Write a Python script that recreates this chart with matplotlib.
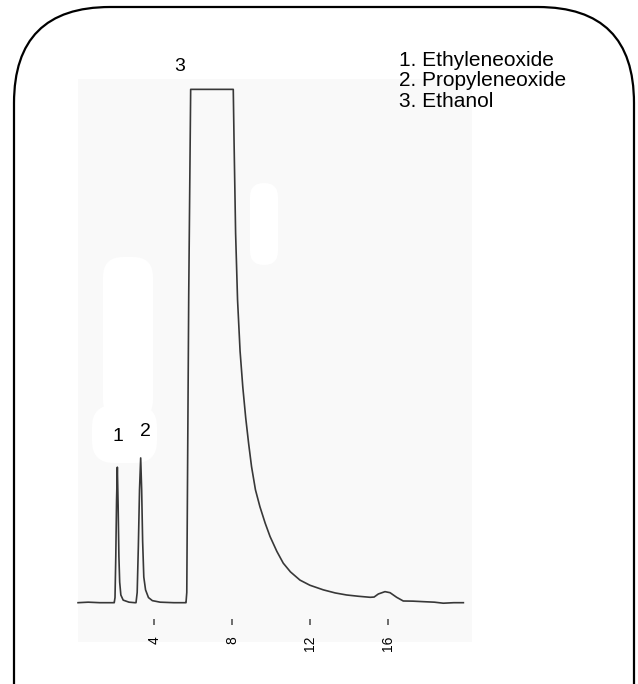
import matplotlib
matplotlib.use("Agg")
import matplotlib.pyplot as plt
from matplotlib.patches import FancyBboxPatch, Rectangle
from matplotlib.transforms import IdentityTransform

plt.rcParams['font.family'] = ['Liberation Sans', 'DejaVu Sans']

# Chromatogram trace: retention time (min) and detector signal (% of full scale)
t_start = [0.08, 0.6, 1.2, 1.90]
s_start = [0.0, 0.1, 0.0, 0.0]

t_peak1 = [1.94, 1.98, 2.02, 2.06, 2.10, 2.14, 2.18, 2.22, 2.28, 2.40, 2.70, 3.00]
s_peak1 = [0.0, 1.0, 9.0, 20.0, 26.4, 19.0, 9.0, 4.0, 1.5, 0.5, 0.1, 0.0]

t_peak2 = [3.06, 3.12, 3.18, 3.24, 3.30, 3.35, 3.40, 3.46, 3.55, 3.70, 3.90, 4.30, 5.00, 5.60]
s_peak2 = [0.0, 2.0, 11.0, 22.0, 28.2, 22.0, 12.0, 5.0, 2.5, 1.0, 0.4, 0.1, 0.0, 0.0]

t_peak3 = [5.63, 5.67, 5.77, 5.87, 8.06, 8.10, 8.18, 8.28, 8.41, 8.55, 8.70, 8.85,
           9.00, 9.20, 9.43, 9.70, 9.95, 10.30, 10.63, 11.00, 11.49, 12.00, 12.69,
           13.30, 13.89, 14.50, 15.10, 15.30]
s_peak3 = [0.0, 2.0, 60.0, 100.0, 100.0, 90.0, 72.0, 59.0, 49.0, 42.0, 36.0, 31.0,
           26.5, 22.0, 18.7, 15.5, 12.9, 10.0, 7.7, 6.0, 4.4, 3.4, 2.5,
           1.9, 1.5, 1.25, 1.05, 1.1]

t_tail = [15.52, 15.86, 16.12, 16.46, 16.80, 17.30, 17.83, 18.40, 18.86, 19.40, 19.89]
s_tail = [1.7, 2.15, 1.95, 1.05, 0.33, 0.3, 0.2, 0.1, -0.1, 0.0, 0.0]

time_ticks = [4, 8, 12, 16]

peak_labels = ["1", "2", "3"]
peak_label_t = [2.12, 3.56, 5.32]
peak_label_s = [32.3, 33.4, 104.5]

compounds = ["1. Ethyleneoxide", "2. Propyleneoxide", "3. Ethanol"]

time_min = t_start + t_peak1 + t_peak2 + t_peak3 + t_tail
signal = s_start + s_peak1 + s_peak2 + s_peak3 + s_tail

W, H = 638, 684
fig = plt.figure(figsize=(W / 100, H / 100), dpi=100)
fig.patch.set_facecolor('white')


def fx(px):
    return px / W


def fy(py):
    return 1 - py / H


# faint scanned paper background with lighter patches
fig.add_artist(Rectangle((fx(78), fy(642)), fx(472) - fx(78), fy(79) - fy(642),
                         transform=fig.transFigure, facecolor='#f9f9f9',
                         edgecolor='none', zorder=0))
for (x0, y0, x1, y1, r) in [(103, 257, 153, 420, 20), (92, 405, 157, 463, 22),
                            (250, 183, 278, 265, 14)]:
    fig.add_artist(FancyBboxPatch((x0, H - y1), x1 - x0, y1 - y0,
                                  boxstyle=f"round,pad=0,rounding_size={r}",
                                  transform=IdentityTransform(),
                                  facecolor='white', edgecolor='none', zorder=0.5))

# rounded frame
fig.add_artist(FancyBboxPatch((14, -120), 620, H - 7 + 120,
                              boxstyle="round,pad=0,rounding_size=96",
                              transform=IdentityTransform(),
                              facecolor='none', edgecolor='black',
                              linewidth=1.6, zorder=5))

ax = fig.add_axes([fx(76.5), fy(618.5), fx(465.5) - fx(76.5), fy(63.7) - fy(618.5)])
ax.set_facecolor('none')
ax.set_zorder(2)
ax.plot(time_min, signal, color='#383838', linewidth=1.2, clip_on=False)
ax.set_xlim(0, 20)
ax.set_ylim(-3.08, 105)

for sp in ax.spines.values():
    sp.set_visible(False)
ax.set_yticks([])
ax.set_xticks(time_ticks)
ax.set_xticklabels([str(v) for v in time_ticks], rotation=90, fontsize=10)
ax.tick_params(axis='x', direction='out', length=4, width=1.2, color='#555555',
               pad=8.5)

for lab, tx, sy in zip(peak_labels, peak_label_t, peak_label_s):
    ax.text(tx, sy, lab, ha='center', va='center', fontsize=14, clip_on=False)

for i, name in enumerate(compounds):
    fig.text(fx(399), fy(65.7 + 20.5 * i), name, ha='left', va='baseline', fontsize=15)

fig.savefig("out.png", dpi=100)
